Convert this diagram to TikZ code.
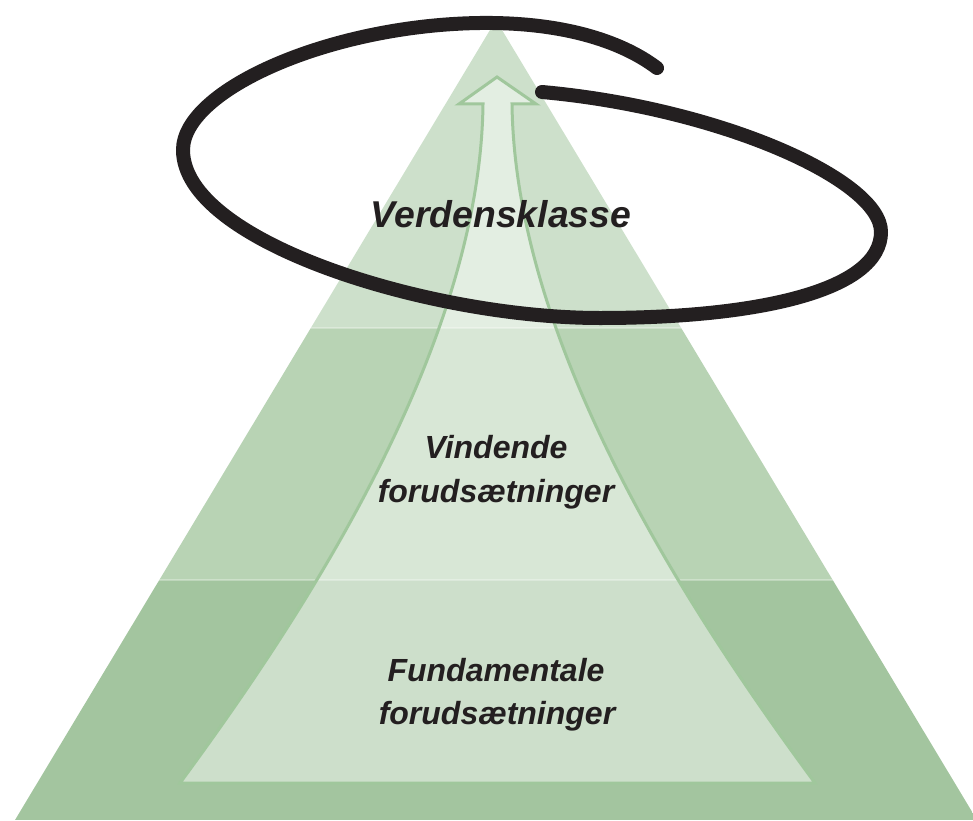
\documentclass[tikz,border=0pt]{standalone}
\usepackage{fontspec}
\setmainfont{Liberation Sans}
\definecolor{bandA}{HTML}{CDE0CB}
\definecolor{bandB}{HTML}{B8D3B4}
\definecolor{bandC}{HTML}{A3C59F}
\definecolor{edgegreen}{HTML}{A0C79C}
\definecolor{ink}{HTML}{231F20}
\tikzset{
  lblbig/.style={font=\fontsize{28}{34}\selectfont\bfseries\itshape, text=ink, inner sep=0pt, anchor=base},
  lbl/.style={font=\fontsize{24}{30}\selectfont\bfseries\itshape, text=ink, inner sep=0pt, anchor=base},
  loopstroke/.style={draw=ink, line width=10.5pt, line cap=round, line join=round}
}
\begin{document}
\begin{tikzpicture}[x=0.75pt, y=-0.75pt]
\useasboundingbox (0,0) rectangle (973,820);
% pyramid bands
\begin{scope}
  \clip (496,20) -- (977,820) -- (15,820) -- cycle;
  \fill[bandA] (0,0) rectangle (973,328);
  \fill[bandB] (0,328) rectangle (973,580);
  \fill[bandC] (0,580) rectangle (977,820);
  \draw[white, opacity=0.3, line width=0.9pt] (0,328) -- (977,328) (0,580) -- (977,580);
\end{scope}
% inner path with arrow
\path[fill=white, fill opacity=0.46, draw=edgegreen, line width=2.25pt, line join=miter]
  (497,77) -- (536,104) -- (512,104)
  .. controls (515,350) and (695,620) .. (815,783)
  -- (180,783)
  .. controls (300,620) and (480,350) .. (483,104)
  -- (459,104) -- cycle;
% labels
\node[lblbig] (verd) at (501,227) {Verdensklasse};
\node[lbl] (vin1) at (496,458) {Vindende};
\node[lbl] (vin2) at (496,502) {forudsætninger};
\node[lbl] (fun1) at (496,681) {Fundamentale};
\node[lbl] (fun2) at (497,724) {forudsætninger};
% hand drawn loop
\coordinate (loopstart) at (657,68);
\coordinate (looptop) at (480,23);
\coordinate (loopleft) at (183,150);
\coordinate (loopbottom) at (600,318);
\coordinate (loopright) at (881,232);
\coordinate (loopend) at (542,92);
\draw[loopstroke] (loopstart)
  .. controls (620,40) and (560,22) .. (looptop)
  .. controls (330,25) and (183,90) .. (loopleft)
  .. controls (183,242) and (430,318) .. (loopbottom)
  .. controls (760,318) and (881,290) .. (loopright)
  .. controls (881,180) and (720,108) .. (loopend);
\end{tikzpicture}
\end{document}
